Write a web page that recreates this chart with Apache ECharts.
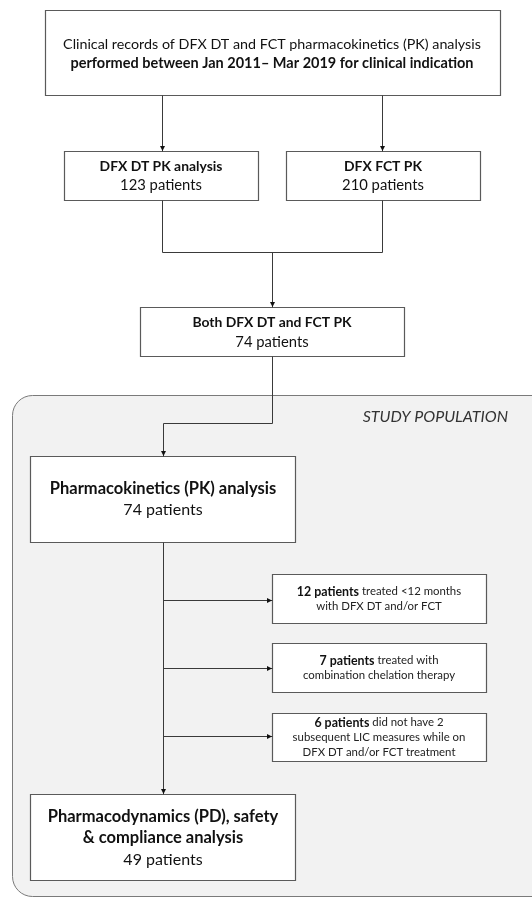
<!DOCTYPE html>
<html><head><meta charset="utf-8">
<script src="https://cdn.jsdelivr.net/npm/echarts@6/dist/echarts.min.js"></script>
<style>html,body{margin:0;padding:0;background:#fff}#c{width:532px;height:898px}</style>
</head><body><div id="c"></div>
<script>
// ---- content ----
const topLines = ['Clinical records of DFX DT and FCT pharmacokinetics (PK) analysis',
                  'performed between Jan 2011\u2013 Mar 2019 for clinical indication'];
const armTitles = ['DFX DT PK analysis', 'DFX FCT PK'];
const armCounts = [123, 210];
const bothTitle = 'Both DFX DT and FCT PK';
const bothCount = 74;
const regionLabel = 'STUDY POPULATION';
const pkTitle = 'Pharmacokinetics (PK) analysis';
const pkCount = 74;
const exclCounts = [12, 7, 6];
const exclLead = ['treated <12 months', 'treated with', 'did not have 2'];
const exclRest = [['with DFX DT and/or FCT'], ['combination chelation therapy'],
                  ['subsequent LIC measures while on', 'DFX DT and/or FCT treatment']];
const pdTitle = ['Pharmacodynamics (PD), safety', '& compliance analysis'];
const pdCount = 49;

// ---- layout ----
const FF = 'Lato, "Open Sans", sans-serif';
const LINE = '#3a3a3a', BOX = '#5a5a5a', TXT = '#111';
const g = [];
function box(x, y, w, h) {
  g.push({type:'rect', shape:{x:x+0.5, y:y+0.5, width:w, height:h},
    style:{fill:'#fff', stroke:BOX, lineWidth:1.2}, z:2});
}
function poly(pts) {
  g.push({type:'polyline', shape:{points:pts.map(p=>[p[0]+0.5,p[1]+0.5])},
    style:{stroke:LINE, lineWidth:1, fill:null}, z:3});
}
function arrowDown(x, y) {
  g.push({type:'polygon', shape:{points:[[x-2.5+0.5,y-5],[x+2.5+0.5,y-5],[x+0.5,y]]},
    style:{fill:'#111'}, z:4});
}
function arrowRight(x, y) {
  g.push({type:'polygon', shape:{points:[[x-5,y-2.5+0.5],[x-5,y+2.5+0.5],[x,y+0.5]]},
    style:{fill:'#111'}, z:4});
}
function text(str, x, y, size, weight, opts) {
  g.push(Object.assign({type:'text', z:5, style:Object.assign({
    text:str, x:x, y:y, align:'center', verticalAlign:'middle',
    fontFamily:FF, fontSize:size, fontWeight:weight||'normal', fill:TXT}, opts||{})}));
}

// study population region
g.push({type:'rect', shape:{x:12.5, y:395.5, width:560, height:501, r:20},
  style:{fill:'#f2f2f2', stroke:'#7a7a7a', lineWidth:1}, z:0});
text(regionLabel, 508, 417, 16, 'normal', {align:'right', fontStyle:'italic', fill:'#333'});

// top box
box(45, 10, 455, 85);
text(topLines[0], 272, 44, 14.3, 'normal');
text(topLines[1], 272, 63, 14.5, 'bold');

// arms
const armX = [64, 286], armW = 194;
armX.forEach((x, i) => {
  const cx = x + armW/2;
  box(x, 151, armW, 49);
  text(armTitles[i], cx, 167, 13.9, 'bold');
  text(armCounts[i] + ' patients', cx, 185, 14.8, 'normal');
});
poly([[162,95],[162,151]]); arrowDown(162,151);
poly([[382,95],[382,151]]); arrowDown(382,151);
poly([[162,200],[162,252],[382,252],[382,200]]);
poly([[272,252],[272,307]]); arrowDown(272,307);

// both
box(140, 307, 264, 49);
text(bothTitle, 272, 323, 13.9, 'bold');
text(bothCount + ' patients', 272, 342, 14.8, 'normal');
poly([[272,356],[272,423],[163,423],[163,456]]); arrowDown(163,456);

// PK
box(30, 456, 265, 86);
text(pkTitle, 163, 489, 16.5, 'bold');
text(pkCount + ' patients', 163, 510, 16, 'normal');

// trunk
poly([[163,542],[163,794]]); arrowDown(163,794);

// exclusions
const exclY = [574, 643, 713], exclH = [49, 49, 48], exclArrow = [600, 668, 736];
exclCounts.forEach((n, i) => {
  box(272, exclY[i], 214, exclH[i]);
  poly([[163, exclArrow[i]],[272, exclArrow[i]]]); arrowRight(272, exclArrow[i]);
  const lines = ['{b|' + n + ' patients} ' + exclLead[i]].concat(exclRest[i]);
  const cy = exclY[i] + exclH[i]/2 + 0.5;
  g.push({type:'text', z:5, style:{
    text: lines.join('\n'), x:379, y:cy, align:'center', verticalAlign:'middle',
    fontFamily:FF, fontSize:11.4, lineHeight:15, fill:'#222',
    rich:{b:{fontFamily:FF, fontSize:12.4, fontWeight:'bold', fill:'#111', lineHeight:15}}}});
});

// PD
box(30, 794, 265, 86);
text(pdTitle[0], 163, 817, 16.5, 'bold');
text(pdTitle[1], 163, 838, 16.5, 'bold');
text(pdCount + ' patients', 163, 860, 16, 'normal');

const chart = echarts.init(document.getElementById('c'), null, {renderer:'canvas'});
chart.setOption({animation:false, backgroundColor:'#fff', graphic:{elements:g}});
</script></body></html>
